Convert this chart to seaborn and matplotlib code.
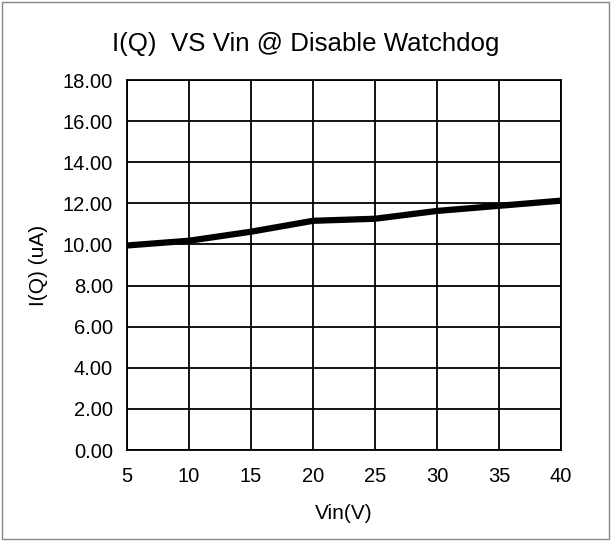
import matplotlib
matplotlib.use("Agg")
import matplotlib.pyplot as plt
import seaborn as sns
import pandas as pd
from matplotlib.patches import Rectangle

vin = [5, 10, 15, 20, 25, 30, 35, 40]
iq = [9.95, 10.18, 10.62, 11.15, 11.25, 11.63, 11.88, 12.13]
x_ticks = [5, 10, 15, 20, 25, 30, 35, 40]
y_ticks = [0, 2, 4, 6, 8, 10, 12, 14, 16, 18]

sns.set_theme(style="white")
plt.rcParams['font.family'] = ['Liberation Sans', 'DejaVu Sans']

df = pd.DataFrame({"Vin": vin, "IQ": iq})

fig = plt.figure(figsize=(6.11, 5.41), dpi=100)
ax = fig.add_axes([127/611, 1-450/541, (561-127)/611, (450-80)/541])

sns.lineplot(data=df, x="Vin", y="IQ", ax=ax, color="black", linewidth=4.5, zorder=5)

ax.set_xlim(5, 40)
ax.set_ylim(0, 18)
ax.set_xticks(x_ticks)
ax.set_yticks(y_ticks)
ax.set_yticklabels([f"{v:.2f}" for v in y_ticks])
ax.tick_params(axis='both', labelsize=14.5, colors='black', length=0)
ax.tick_params(axis='x', pad=12)
ax.tick_params(axis='y', pad=10)
ax.grid(True, color='black', linewidth=1.3)
for s in ax.spines.values():
    s.set_color('black')
    s.set_linewidth(1.3)

ax.set_xlabel("Vin(V)", fontsize=15, color='black', labelpad=13)
ax.set_ylabel("I(Q) (uA)", fontsize=15, color='black', labelpad=11)
fig.text(0.5, 1-44/541, "I(Q)  VS Vin @ Disable Watchdog", ha='center', va='center',
         fontsize=18.6, color='black')

fig.patches.append(Rectangle((0.004, 0.004), 0.992, 0.992, transform=fig.transFigure,
                             fill=False, edgecolor='#888888', linewidth=1.0))

fig.savefig("out.png", dpi=100)
